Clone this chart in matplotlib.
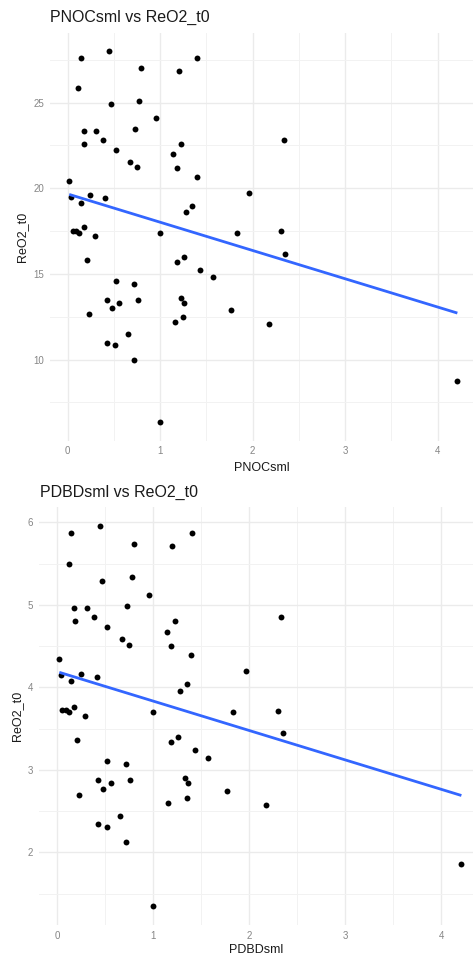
import numpy as np
import matplotlib
matplotlib.use("Agg")
import matplotlib.pyplot as plt
from matplotlib.ticker import MultipleLocator

plt.rcParams['font.family'] = ['Liberation Sans', 'DejaVu Sans']

# ---- data ----
pnoc_x = [0.443, 0.14, 1.40, 0.79, 1.20, 0.115, 0.775, 0.47, 0.96, 0.173,
          0.303, 0.728, 0.378, 2.335, 0.18, 1.225, 0.523, 1.135, 0.677, 0.746,
          1.186, 1.395, 0.018, 1.964, 0.245, 0.04, 0.407, 0.14, 1.35, 1.276,
          0.054, 0.094, 0.123, 0.173, 0.292, 1.002, 1.83, 2.306, 2.353, 0.213,
          1.254, 1.186, 1.434, 1.575, 0.523, 0.714, 0.425, 0.76, 1.229, 0.555,
          1.261, 0.479, 1.762, 0.227, 1.25, 1.157, 2.177, 0.649, 0.425, 0.515,
          0.714, 4.213, 1.002]
pnoc_y = [28.0, 27.6, 27.6, 27.0, 26.87, 25.88, 25.1, 24.9, 24.09, 23.35,
          23.35, 23.44, 22.8, 22.84, 22.59, 22.59, 22.26, 22.02, 21.56, 21.26,
          21.2, 20.66, 20.43, 19.75, 19.6, 19.49, 19.44, 19.16, 18.99, 18.6,
          17.5, 17.5, 17.4, 17.71, 17.19, 17.38, 17.38, 17.48, 16.18, 15.79,
          15.99, 15.70, 15.23, 14.81, 14.61, 14.44, 13.49, 13.49, 13.62, 13.33,
          13.33, 13.0, 12.91, 12.66, 12.5, 12.19, 12.07, 11.49, 10.99, 10.83,
          10.0, 8.74, 6.34]

pdbd_x = [0.448, 0.146, 1.403, 0.799, 1.201, 0.122, 0.778, 0.472, 0.962, 0.181,
          0.309, 0.729, 0.382, 2.333, 0.188, 1.229, 0.524, 1.146, 0.681, 0.753,
          1.188, 1.396, 0.024, 1.969, 0.247, 0.045, 0.413, 0.146, 1.354, 1.278,
          0.052, 0.094, 0.125, 0.174, 0.292, 1.0, 1.83, 2.306, 2.354, 0.212,
          1.257, 1.188, 1.438, 1.576, 0.524, 0.715, 0.427, 0.764, 1.337, 0.559,
          1.365, 0.483, 1.767, 0.229, 1.354, 1.16, 2.177, 0.653, 0.427, 0.521,
          0.715, 4.212, 1.0]
pdbd_y = [5.955, 5.87, 5.87, 5.74, 5.71, 5.50, 5.336, 5.29, 5.12, 4.964,
          4.964, 4.984, 4.85, 4.854, 4.80, 4.80, 4.733, 4.676, 4.583, 4.518,
          4.506, 4.393, 4.344, 4.198, 4.166, 4.146, 4.13, 4.077, 4.036, 3.955,
          3.722, 3.722, 3.70, 3.766, 3.657, 3.698, 3.698, 3.718, 3.444, 3.359,
          3.403, 3.339, 3.242, 3.149, 3.109, 3.073, 2.871, 2.871, 2.895, 2.835,
          2.835, 2.762, 2.746, 2.69, 2.657, 2.593, 2.569, 2.444, 2.339, 2.302,
          2.125, 1.859, 1.347]

panels = [
    dict(x=pnoc_x, y=pnoc_y, title="PNOCsml vs ReO2_t0", xlabel="PNOCsml",
         rect=[50/473, 1-440.8/960, 423/473, 408.1/960], xlim=(-0.19, 4.382),
         ylim=(5.26, 29.08), ymaj=5, ymin=2.5, title_xy=(50/473, 1-17/960),
         ylab_x=-0.066, xlab_y=-0.052),
    dict(x=pdbd_x, y=pdbd_y, title="PDBDsml vs ReO2_t0", xlabel="PDBDsml",
         rect=[38.6/473, 1-925.2/960, (473-38.6)/473, 418.2/960], xlim=(-0.192, 4.333),
         ylim=(1.117, 6.185), ymaj=1, ymin=0.5, title_xy=(39.5/473, 1-492/960),
         ylab_x=-0.05, xlab_y=-0.045),
]

fig = plt.figure(figsize=(4.73, 9.6), dpi=100)
fig.patch.set_facecolor('white')

for p in panels:
    ax = fig.add_axes(p['rect'])
    ax.set_facecolor('white')
    for s in ax.spines.values():
        s.set_visible(False)
    ax.set_xlim(*p['xlim'])
    ax.set_ylim(*p['ylim'])
    ax.xaxis.set_major_locator(MultipleLocator(1))
    ax.xaxis.set_minor_locator(MultipleLocator(0.5))
    ax.yaxis.set_major_locator(MultipleLocator(p['ymaj']))
    ax.yaxis.set_minor_locator(MultipleLocator(p['ymin']))
    ax.grid(which='major', color='#EBEBEB', linewidth=1.0, zorder=0)
    ax.grid(which='minor', color='#F2F2F2', linewidth=0.7, zorder=0)
    ax.set_axisbelow(True)
    ax.tick_params(which='both', length=0, labelsize=7, labelcolor='#858585', pad=4)

    x = np.array(p['x']); y = np.array(p['y'])
    ax.scatter(x, y, s=18, color='black', linewidths=0, zorder=3)
    b, a = np.polyfit(x, y, 1)
    xs = np.array([x.min(), x.max()])
    ax.plot(xs, a + b*xs, color='#3366FF', linewidth=2.0, zorder=4, solid_capstyle='butt')

    ax.set_xlabel(p['xlabel'], fontsize=9, color='#1A1A1A')
    ax.set_ylabel("ReO2_t0", fontsize=9, color='#1A1A1A')
    ax.xaxis.set_label_coords(0.5, p['xlab_y'])
    ax.yaxis.set_label_coords(p['ylab_x'], 0.5)
    ax.yaxis.label.set_va('center')
    fig.text(p['title_xy'][0], p['title_xy'][1], p['title'], fontsize=11.5,
             color='#1A1A1A', ha='left', va='center')

fig.savefig('out.png', dpi=100, facecolor='white')
